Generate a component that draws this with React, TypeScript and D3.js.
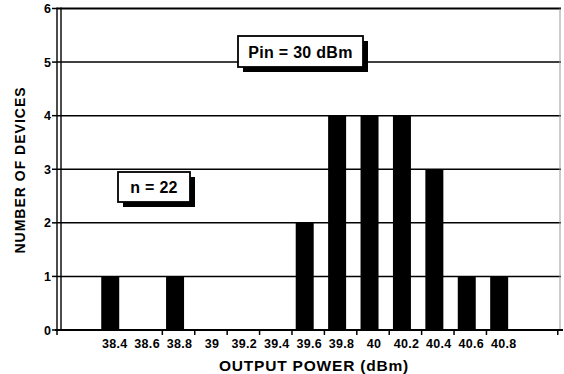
import { useEffect, useRef } from "react";
import * as d3 from "d3";

// histogram of output power, Pin = 30 dBm, n = 22
const powerBins = [38.4, 38.6, 38.8, 39, 39.2, 39.4, 39.6, 39.8, 40, 40.2, 40.4, 40.6, 40.8];
const deviceCounts = [1, 0, 1, 0, 0, 0, 2, 4, 4, 4, 3, 1, 1];
const binLabels = ["38.4", "38.6", "38.8", "39", "39.2", "39.4", "39.6", "39.8", "40", "40.2", "40.4", "40.6", "40.8"];
const countTicks = [0, 1, 2, 3, 4, 5, 6];
const xDomain = [38.05, 41.16];
const binWidth = 0.2;

const FONT = "'Liberation Sans', Arial, Helvetica, sans-serif";

export default function App() {
  const svgRef = useRef<SVGSVGElement>(null);
  const width = 564, height = 374;

  useEffect(() => {
    const margin = { top: 8.5, right: 3, bottom: 44, left: 57 };
    const svg = d3.select(svgRef.current);
    svg.selectAll("*").remove();

    const x = d3.scaleLinear().domain(xDomain).range([margin.left, width - margin.right]);
    const y = d3.scaleLinear().domain([0, 6]).range([height - margin.bottom, margin.top]);

    const g = svg.append("g").style("font-family", FONT).style("font-weight", "bold");

    // gridlines
    g.selectAll(".grid")
      .data(countTicks.filter(d => d > 0))
      .join("line")
        .attr("x1", x(xDomain[0]))
        .attr("x2", x(xDomain[1]))
        .attr("y1", d => y(d))
        .attr("y2", d => y(d))
        .attr("stroke", "#000")
        .attr("stroke-width", d => d === 6 ? 2.2 : 1.5);

    // right frame
    g.append("line")
      .attr("x1", x(xDomain[1]) - 1).attr("x2", x(xDomain[1]) - 1)
      .attr("y1", y(6)).attr("y2", y(0))
      .attr("stroke", "#999").attr("stroke-width", 1);

    // bars
    g.selectAll(".bar")
      .data(powerBins.map((v, i) => ({ v, n: deviceCounts[i] })).filter(d => d.n > 0))
      .join("rect")
        .attr("x", d => x(d.v - 0.077))
        .attr("width", x(xDomain[0] + 0.111) - x(xDomain[0]))
        .attr("y", d => y(d.n))
        .attr("height", d => y(0) - y(d.n))
        .attr("fill", "#000");

    // left axis: double line
    [0, 4].forEach(dx => {
      g.append("line")
        .attr("x1", x(xDomain[0]) + dx).attr("x2", x(xDomain[0]) + dx)
        .attr("y1", y(6) - 1).attr("y2", y(0))
        .attr("stroke", "#000").attr("stroke-width", 1.4);
    });
    g.selectAll(".ytick")
      .data(countTicks)
      .join("line")
        .attr("x1", x(xDomain[0]) - 5).attr("x2", x(xDomain[0]))
        .attr("y1", d => y(d)).attr("y2", d => y(d))
        .attr("stroke", "#000").attr("stroke-width", 1.5);
    g.selectAll(".ylab")
      .data(countTicks)
      .join("text")
        .attr("x", x(xDomain[0]) - 6)
        .attr("y", d => y(d) + 4.5)
        .attr("text-anchor", "end")
        .style("font-size", "12.5px")
        .text(d => d);

    // bottom axis
    g.append("line")
      .attr("x1", x(xDomain[0]) - 2).attr("x2", x(xDomain[1]) + 2)
      .attr("y1", y(0)).attr("y2", y(0))
      .attr("stroke", "#000").attr("stroke-width", 2.2);
    const xTicks = [xDomain[0], ...powerBins.slice(1, -1).map(v => v + binWidth / 2), xDomain[1] - 0.02];
    g.selectAll(".xtick")
      .data(xTicks)
      .join("line")
        .attr("x1", d => x(d)).attr("x2", d => x(d))
        .attr("y1", y(0)).attr("y2", y(0) + 5)
        .attr("stroke", "#000").attr("stroke-width", 1.5);
    g.selectAll(".xlab")
      .data(powerBins)
      .join("text")
        .attr("x", (d, i) => x(d) + 1)
        .attr("y", y(0) + 18)
        .attr("text-anchor", "middle")
        .style("font-size", "12.5px")
        .style("letter-spacing", "0.3px")
        .text((d, i) => binLabels[i]);

    // axis titles
    g.append("text")
      .attr("x", 314)
      .attr("y", 371)
      .attr("text-anchor", "middle")
      .style("font-size", "15.5px")
      .style("letter-spacing", "0.8px")
      .text("OUTPUT POWER (dBm)");
    g.append("text")
      .attr("transform", `translate(25, 170) rotate(-90)`)
      .attr("text-anchor", "middle")
      .style("font-size", "14px")
      .style("letter-spacing", "1px")
      .text("NUMBER OF DEVICES");

    // annotation boxes with drop shadow
    const boxes = [
      { label: "Pin = 30 dBm", x: 238, y: 36, w: 125, h: 31, size: 16 },
      { label: "n = 22", x: 118, y: 172, w: 72, h: 30, size: 16 },
    ];
    boxes.forEach(b => {
      g.append("rect")
        .attr("x", b.x + 5).attr("y", b.y + 5)
        .attr("width", b.w).attr("height", b.h)
        .attr("fill", "#000");
      g.append("rect")
        .attr("x", b.x).attr("y", b.y)
        .attr("width", b.w).attr("height", b.h)
        .attr("fill", "#fff").attr("stroke", "#000").attr("stroke-width", 1.8);
      g.append("text")
        .attr("x", b.x + b.w / 2)
        .attr("y", b.y + b.h / 2 + 6)
        .attr("text-anchor", "middle")
        .style("font-size", `${b.size}px`)
        .style("letter-spacing", "0.3px")
        .text(b.label);
    });
  }, []);

  return (
    <svg
      ref={svgRef}
      width={width}
      height={height}
      style={{ position: "absolute", left: 0, top: 0, background: "#fff" }}
    />
  );
}
